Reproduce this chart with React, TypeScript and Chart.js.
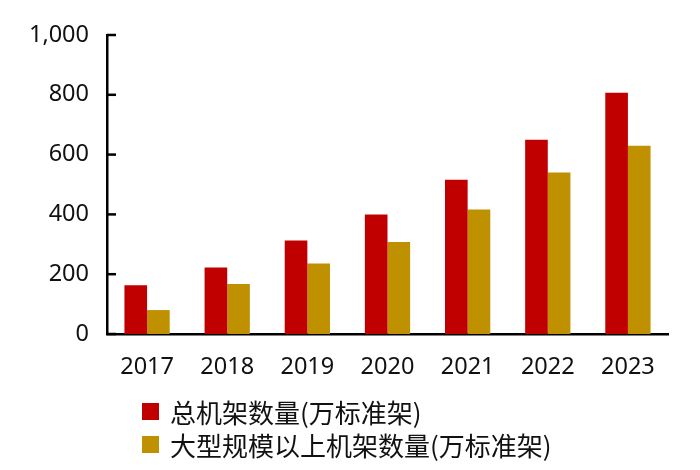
import React, { useEffect, useRef } from 'react';
import Chart from 'chart.js/auto';

const years = ['2017', '2018', '2019', '2020', '2021', '2022', '2023'];
const totalRacks = [163, 222, 313, 400, 516, 650, 807];
const largeRacks = [80, 167, 236, 308, 416, 540, 630];
const seriesNames = ['总机架数量(万标准架)', '大型规模以上机架数量(万标准架)'];
const seriesColors = ['#C00000', '#BF9000'];

// draws the small y tick marks pointing into the plot
const innerTicks = {
  id: 'innerTicks',
  afterDatasetsDraw(chart: any) {
    const y = chart.scales.y;
    const ctx = chart.ctx;
    ctx.save();
    ctx.strokeStyle = '#000';
    ctx.lineWidth = 2.5;
    y.ticks.forEach((t: any) => {
      const py = y.getPixelForValue(t.value);
      ctx.beginPath();
      ctx.moveTo(chart.chartArea.left, py);
      ctx.lineTo(chart.chartArea.left + 9, py);
      ctx.stroke();
    });
    ctx.restore();
  }
};

export default function App() {
  const canvasRef = useRef<HTMLCanvasElement | null>(null);
  const chartRef = useRef<Chart | null>(null);

  useEffect(() => {
    document.body.style.margin = '0';
    if (!canvasRef.current) return;
    if (chartRef.current) chartRef.current.destroy();

    chartRef.current = new Chart(canvasRef.current, {
      type: 'bar',
      data: {
        labels: years,
        datasets: [
          { label: seriesNames[0], data: totalRacks, backgroundColor: seriesColors[0] },
          { label: seriesNames[1], data: largeRacks, backgroundColor: seriesColors[1] }
        ]
      },
      options: {
        responsive: false,
        animation: false,
        layout: { padding: { left: 0, right: 32, top: 35, bottom: 0 } },
        datasets: { bar: { categoryPercentage: 0.565, barPercentage: 1 } },
        plugins: { legend: { display: false }, tooltip: { enabled: false } },
        scales: {
          x: {
            grid: { display: false, drawTicks: false },
            border: { display: true, color: '#000', width: 2.5 },
            ticks: { color: '#111', padding: 19, font: { family: '"Noto Sans"', size: 23.5 } },
            afterFit: (s: any) => { s.height = 136; }
          },
          y: {
            min: 0,
            max: 1000,
            grid: { display: false, drawTicks: false },
            border: { display: true, color: '#000', width: 2.5 },
            ticks: {
              stepSize: 200,
              color: '#111',
              padding: 18,
              font: { family: '"Noto Sans"', size: 23.5 },
              callback: (v: any) => Number(v).toLocaleString('en-US')
            },
            afterFit: (s: any) => { s.width = 107; }
          }
        }
      },
      plugins: [innerTicks]
    });

    return () => {
      if (chartRef.current) chartRef.current.destroy();
      chartRef.current = null;
    };
  }, []);

  return (
    <div style={{ position: 'relative', width: 700, height: 470, background: '#fff' }}>
      <canvas ref={canvasRef} width={700} height={470}></canvas>
      <div style={{ position: 'absolute', left: 142, top: 395, fontFamily: '"Noto Sans CJK SC", "Noto Sans", sans-serif', fontSize: 26, color: '#111', lineHeight: '33px' }}>
        {seriesNames.map((name, i) => (
          <div key={name} style={{ display: 'flex', alignItems: 'center' }}>
            <span style={{ display: 'inline-block', width: 17, height: 17, background: seriesColors[i], marginRight: 11 }}></span>
            <span>{name}</span>
          </div>
        ))}
      </div>
    </div>
  );
}
